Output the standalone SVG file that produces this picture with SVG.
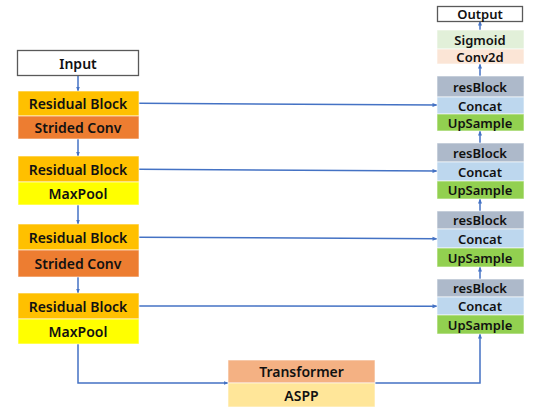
<svg xmlns="http://www.w3.org/2000/svg" width="542" height="414" viewBox="0 0 542 414">
<defs>
<style>
.t{font-family:"Noto Sans","Liberation Sans",sans-serif;font-weight:600;font-size:14px;fill:#111;text-anchor:middle;dominant-baseline:central}
.r{font-size:13px}
.bx{stroke:#fff;stroke-opacity:0.6;stroke-width:1}
.c{fill:none;stroke:#4472C4;stroke-width:1.5}
</style>
<marker id="ah" viewBox="0 0 10 10" refX="9" refY="5" markerWidth="5" markerHeight="5" orient="auto" markerUnits="userSpaceOnUse">
<path d="M0,1 L10,5 L0,9 z" fill="#4472C4"/>
</marker>
</defs>
<rect width="542" height="414" fill="#fff"/>
<g id="connectors">
<line class="c" x1="78" y1="76" x2="78" y2="91" marker-end="url(#ah)"/>
<line class="c" x1="78" y1="139" x2="78" y2="156" marker-end="url(#ah)"/>
<line class="c" x1="78" y1="205" x2="78" y2="224" marker-end="url(#ah)"/>
<line class="c" x1="78" y1="277" x2="78" y2="293" marker-end="url(#ah)"/>
<polyline class="c" points="78,344 78,383 228,383" marker-end="url(#ah)"/>
<polyline class="c" points="375,383 480,383 480,334" marker-end="url(#ah)"/>
<line class="c" x1="139" y1="103.3" x2="437" y2="105" marker-end="url(#ah)"/>
<line class="c" x1="139" y1="169.3" x2="437" y2="171" marker-end="url(#ah)"/>
<line class="c" x1="139" y1="237.3" x2="437" y2="238.7" marker-end="url(#ah)"/>
<line class="c" x1="139" y1="306" x2="437" y2="306.3" marker-end="url(#ah)"/>
<line class="c" x1="480" y1="279" x2="480" y2="267" marker-end="url(#ah)"/>
<line class="c" x1="480" y1="211" x2="480" y2="199" marker-end="url(#ah)"/>
<line class="c" x1="480" y1="143" x2="480" y2="131" marker-end="url(#ah)"/>
<line class="c" x1="480" y1="76" x2="480" y2="64" marker-end="url(#ah)"/>
<line class="c" x1="480" y1="30" x2="480" y2="21" marker-end="url(#ah)"/>
</g>
<g id="input">
<rect x="17.5" y="50.5" width="121" height="25" fill="#fff" stroke="#595959" stroke-width="1.3"/>
<text class="t" x="78" y="63">Input</text>
</g>
<g id="enc1">
<rect class="bx" x="18" y="91" width="121" height="25" fill="#FFC000"/>
<rect class="bx" x="18" y="116" width="121" height="23" fill="#ED7D31"/>
<text class="t" x="78" y="103.5">Residual Block</text>
<text class="t" x="78" y="127.5">Strided Conv</text>
</g>
<g id="enc2">
<rect class="bx" x="18" y="156" width="121" height="26" fill="#FFC000"/>
<rect class="bx" x="18" y="182" width="121" height="23" fill="#FFFF00"/>
<text class="t" x="78" y="169.5">Residual Block</text>
<text class="t" x="78" y="193.5">MaxPool</text>
</g>
<g id="enc3">
<rect class="bx" x="18" y="224" width="121" height="26" fill="#FFC000"/>
<rect class="bx" x="18" y="250" width="121" height="27" fill="#ED7D31"/>
<text class="t" x="78" y="237.5">Residual Block</text>
<text class="t" x="78" y="263.5">Strided Conv</text>
</g>
<g id="enc4">
<rect class="bx" x="18" y="293" width="121" height="26" fill="#FFC000"/>
<rect class="bx" x="18" y="319" width="121" height="25" fill="#FFFF00"/>
<text class="t" x="78" y="306">Residual Block</text>
<text class="t" x="78" y="331.5">MaxPool</text>
</g>
<g id="bottleneck">
<rect class="bx" x="228" y="360" width="147" height="23" fill="#F4B183"/>
<rect class="bx" x="228" y="383" width="147" height="24" fill="#FFE699"/>
<text class="t" x="301.5" y="371.5">Transformer</text>
<text class="t" x="301.5" y="395">ASPP</text>
</g>
<g id="output">
<rect x="437.5" y="6.5" width="85" height="15" fill="#fff" stroke="#595959" stroke-width="1.3"/>
<text class="t r" x="480" y="14">Output</text>
</g>
<g id="head">
<rect class="bx" x="437" y="30" width="87" height="19" fill="#E2F0D9"/>
<rect class="bx" x="437" y="49" width="87" height="15" fill="#FBE5D6"/>
<text class="t r" x="480" y="39.5">Sigmoid</text>
<text class="t r" x="480" y="57">Conv2d</text>
</g>
<g id="dec1">
<rect class="bx" x="437" y="76" width="87" height="21" fill="#ADB9CA"/>
<rect class="bx" x="437" y="97" width="87" height="17" fill="#BDD7EE"/>
<rect class="bx" x="437" y="114" width="87" height="17" fill="#92D050"/>
<text class="t r" x="480" y="87">resBlock</text>
<text class="t r" x="480" y="105.5">Concat</text>
<text class="t r" x="480" y="122.5">UpSample</text>
</g>
<g id="dec2">
<rect class="bx" x="437" y="143" width="87" height="19" fill="#ADB9CA"/>
<rect class="bx" x="437" y="162" width="87" height="19" fill="#BDD7EE"/>
<rect class="bx" x="437" y="181" width="87" height="18" fill="#92D050"/>
<text class="t r" x="480" y="152.5">resBlock</text>
<text class="t r" x="480" y="171.5">Concat</text>
<text class="t r" x="480" y="190">UpSample</text>
</g>
<g id="dec3">
<rect class="bx" x="437" y="211" width="87" height="18" fill="#ADB9CA"/>
<rect class="bx" x="437" y="229" width="87" height="19" fill="#BDD7EE"/>
<rect class="bx" x="437" y="248" width="87" height="19" fill="#92D050"/>
<text class="t r" x="480" y="220">resBlock</text>
<text class="t r" x="480" y="238.5">Concat</text>
<text class="t r" x="480" y="257.5">UpSample</text>
</g>
<g id="dec4">
<rect class="bx" x="437" y="279" width="87" height="18" fill="#ADB9CA"/>
<rect class="bx" x="437" y="297" width="87" height="18" fill="#BDD7EE"/>
<rect class="bx" x="437" y="315" width="87" height="19" fill="#92D050"/>
<text class="t r" x="480" y="288">resBlock</text>
<text class="t r" x="480" y="306">Concat</text>
<text class="t r" x="480" y="324.5">UpSample</text>
</g>
</svg>
